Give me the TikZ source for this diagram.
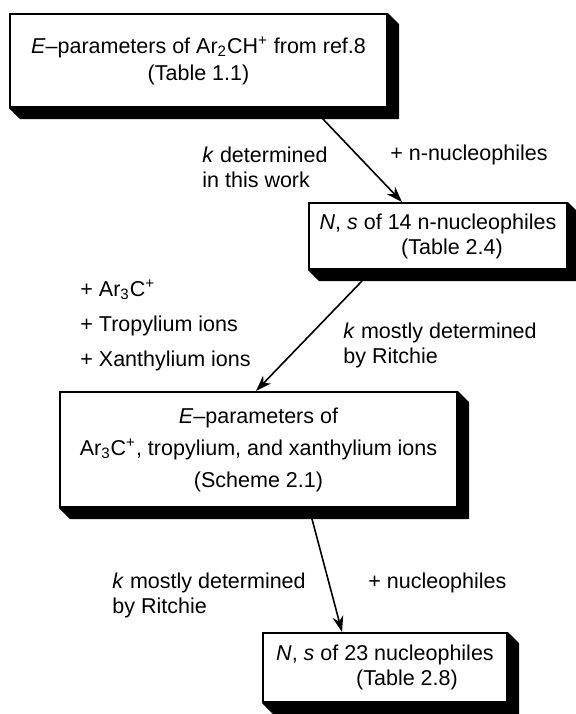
\documentclass[tikz,border=0pt]{standalone}
\usepackage{fontspec}
\setmainfont{Liberation Sans}
\usetikzlibrary{arrows.meta}

\newcommand{\boxshadow}[1]{%
\fill (#1.north east) -- ++(5.5pt,-5.5pt) -- ([shift={(5.5pt,-5.5pt)}]#1.south east)
-- ([shift={(5.5pt,-5.5pt)}]#1.south west) -- (#1.south west) -- (#1.south east) -- cycle;}

\begin{document}
\begin{tikzpicture}[x=0.5pt,y=-0.5pt,
every node/.style={font=\fontsize{10.75}{12.5}\selectfont},
flowbox/.style={draw,fill=white,line width=1pt,inner sep=0pt,align=center},
lbl/.style={anchor=west,align=left,inner sep=0pt},
arr/.style={-{Stealth[length=8pt,width=5.5pt]},line width=0.8pt}]
\useasboundingbox (0,0) rectangle (576,714);

\node[flowbox,minimum width=188.5pt,minimum height=46.5pt,font=\fontsize{10.75}{13.5}\selectfont] (b1) at (198.5,60.5)
{\textit{E}--parameters of Ar\textsubscript{2}CH\textsuperscript{+} from ref.8\\(Table 1.1)};
\boxshadow{b1}

\node[flowbox,minimum width=129pt,minimum height=33pt] (b2) at (438,236)
{\textit{N}, \textit{s} of 14 n-nucleophiles\\\hspace*{14pt}(Table 2.4)};
\boxshadow{b2}

\node[flowbox,minimum width=198.5pt,minimum height=57.5pt,font=\fontsize{10.75}{16}\selectfont] (b3) at (258.5,449.5)
{\textit{E}--parameters of\\Ar\textsubscript{3}C\textsuperscript{+}, tropylium, and xanthylium ions\\(Scheme 2.1)};
\boxshadow{b3}

\node[flowbox,minimum width=122pt,minimum height=34.5pt] (b4) at (385,667.5)
{\textit{N}, \textit{s} of 23 nucleophiles\\\hspace*{22pt}(Table 2.8)};
\boxshadow{b4}

\draw[arr] ([xshift=156.5pt,yshift=-5pt]b1.south west) -- ([xshift=47pt]b2.north west);
\draw[arr] ([xshift=27pt,yshift=-5.5pt]b2.south west) -- ([xshift=98.5pt]b3.north west);
\draw[arr] ([xshift=126.5pt,yshift=-5.5pt]b3.south west) -- ([xshift=40pt]b4.north west);

\node[lbl] (l1) at (202,167.5) {\textit{k} determined\\in this work};
\node[lbl] (l2) at (390,155) {+ n-nucleophiles};
\node[lbl,font=\fontsize{10.75}{17.5}\selectfont] (l3) at (80,325)
{+ Ar\textsubscript{3}C\textsuperscript{+}\\+ Tropylium ions\\+ Xanthylium ions};
\node[lbl] (l4) at (343,345) {\textit{k} mostly determined\\by Ritchie};
\node[lbl] (l5) at (112,595) {\textit{k} mostly determined\\by Ritchie};
\node[lbl] (l6) at (368,583) {+ nucleophiles};
\end{tikzpicture}
\end{document}
